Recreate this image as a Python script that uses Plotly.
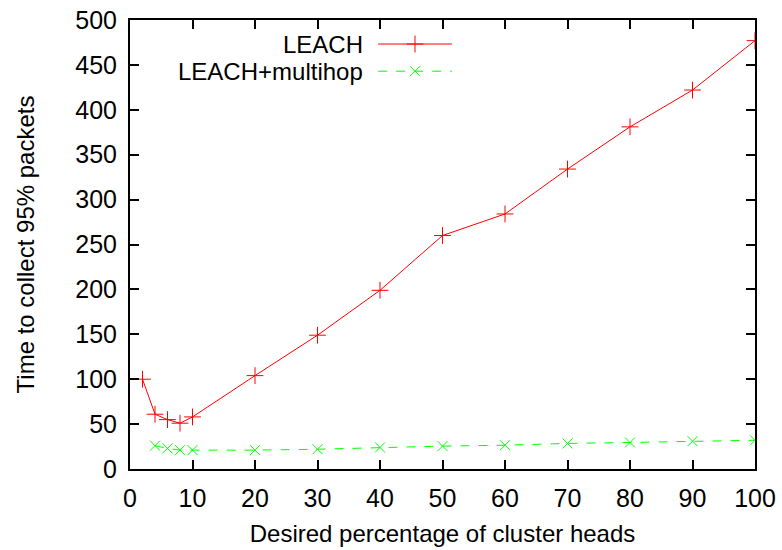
import plotly.graph_objects as go

# Data
leach_x = [2, 4, 6, 8, 10, 20, 30, 40, 50, 60, 70, 80, 90, 100]
leach_y = [100, 61, 55, 51, 58, 104, 149, 199, 260, 284, 334, 381, 422, 477]

multihop_x = [4, 6, 8, 10, 20, 30, 40, 50, 60, 70, 80, 90, 100]
multihop_y = [26, 23, 21, 21, 21, 22, 24, 25.5, 26.5, 28.5, 29.5, 31, 32]

x_ticks = [0, 10, 20, 30, 40, 50, 60, 70, 80, 90, 100]
y_ticks = [0, 50, 100, 150, 200, 250, 300, 350, 400, 450, 500]

series_names = ["LEACH", "LEACH+multihop"]

RED = "#ff0000"
GREEN = "#00ff00"
FONT = "Liberation Sans, Arial, Helvetica, sans-serif"
FS_TICK = 25
FS_TITLE = 24
FS_KEY = 24

fig = go.Figure()

fig.add_trace(go.Scatter(
    x=leach_x, y=leach_y, mode="lines+markers", name=series_names[0],
    line=dict(color=RED, width=1),
    marker=dict(symbol="cross-thin", size=12, color=RED, line=dict(color=RED, width=1)),
    showlegend=False,
))
fig.add_trace(go.Scatter(
    x=multihop_x, y=multihop_y, mode="lines+markers", name=series_names[1],
    line=dict(color=GREEN, width=1, dash="dash"),
    marker=dict(symbol="x-thin", size=10, color=GREEN, line=dict(color=GREEN, width=1)),
    showlegend=False,
))

# gnuplot-style key: text on left, sample on right (drawn on hidden overlay axes)
key_x0, key_x1 = 0.397, 0.515
key_rows = [0.9465, 0.886]
styles = [
    dict(line=dict(color=RED, width=1), sym="cross-thin", size=12, col=RED),
    dict(line=dict(color=GREEN, width=1, dash="dash"), sym="x-thin", size=10, col=GREEN),
]
for name, yk, st in zip(series_names, key_rows, styles):
    fig.add_trace(go.Scatter(
        x=[key_x0, (key_x0 + key_x1) / 2, key_x1], y=[yk, yk, yk],
        xaxis="x2", yaxis="y2", mode="lines", line=st["line"],
        showlegend=False, hoverinfo="skip",
    ))
    fig.add_trace(go.Scatter(
        x=[(key_x0 + key_x1) / 2], y=[yk],
        xaxis="x2", yaxis="y2", mode="markers",
        marker=dict(symbol=st["sym"], size=st["size"], color=st["col"],
                    line=dict(color=st["col"], width=1)),
        showlegend=False, hoverinfo="skip",
    ))
    fig.add_annotation(
        x=0.376, y=yk, xref="paper", yref="paper", text=name,
        showarrow=False, xanchor="right", yanchor="middle",
        font=dict(family=FONT, size=FS_KEY, color="black"),
    )

axis_common = dict(
    showgrid=False, zeroline=False, showline=True, linecolor="black", linewidth=2,
    mirror="ticks", ticks="inside", ticklen=9, tickwidth=1.5, tickcolor="black",
    tickfont=dict(family=FONT, size=FS_TICK, color="black"), automargin=False,
)

fig.update_layout(
    width=782, height=550,
    margin=dict(l=130, r=27, t=20, b=81),
    paper_bgcolor="white", plot_bgcolor="white",
    xaxis=dict(range=[0, 100], tickvals=x_ticks, ticktext=[str(v) for v in x_ticks],
               title=dict(text="Desired percentage of cluster heads",
                          font=dict(family=FONT, size=FS_TITLE, color="black"), standoff=14),
               ticklabelstandoff=6,
               **axis_common),
    yaxis=dict(range=[0, 500], tickvals=y_ticks, ticktext=[str(v) for v in y_ticks],
               title=dict(text="Time to collect 95% packets",
                          font=dict(family=FONT, size=FS_TITLE, color="black"), standoff=34),
               ticklabelstandoff=6,
               **axis_common),
    xaxis2=dict(overlaying="x", range=[0, 1], visible=False),
    yaxis2=dict(overlaying="y", range=[0, 1], visible=False),
)

fig.write_html("out.html")
